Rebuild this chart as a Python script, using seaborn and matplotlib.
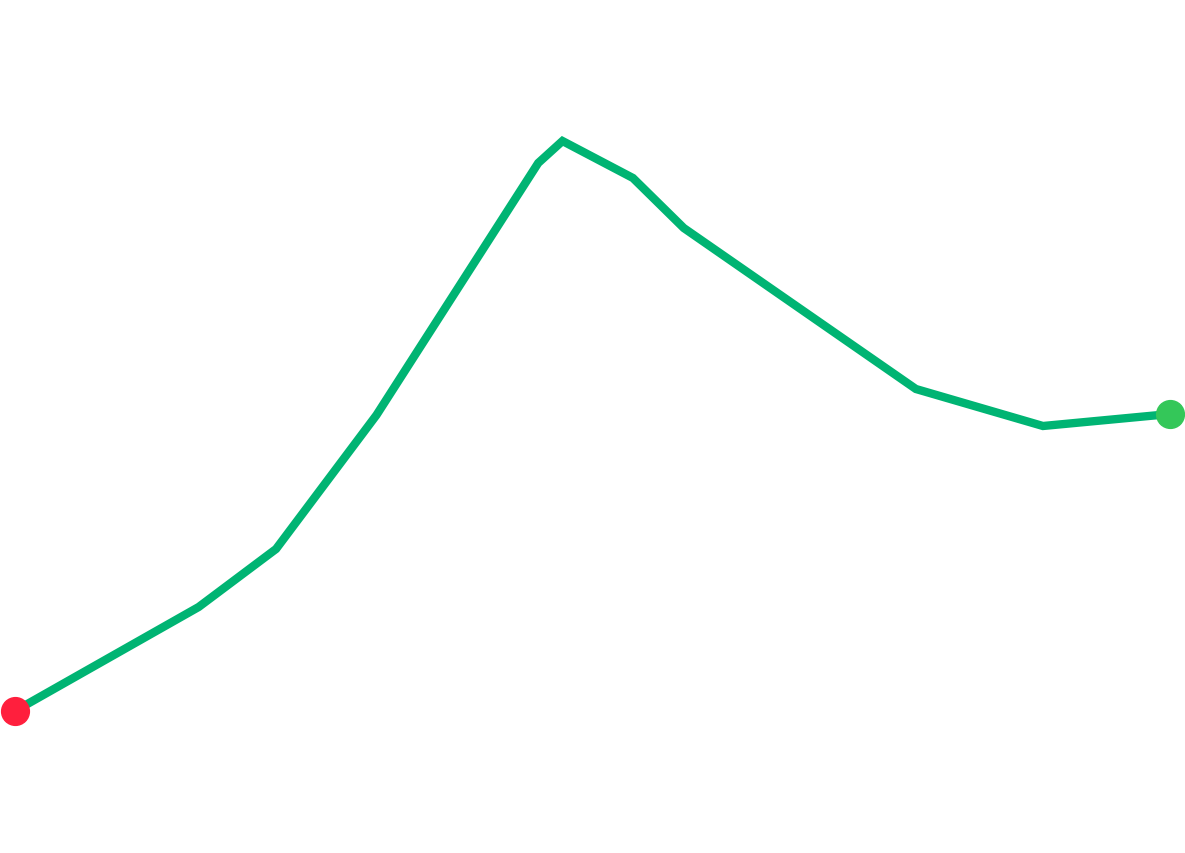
import matplotlib
matplotlib.use("Agg")
import matplotlib.pyplot as plt
import pandas as pd
import seaborn as sns

# (arbitrary units, no axes shown)
x_pos = [0.0, 15.9, 22.6, 31.3, 45.3, 47.4, 53.5, 57.9, 78.0, 89.0, 100.0]
values = [142, 246, 304, 438, 690, 712, 675, 625, 464, 427, 439]

LINE = "#00b473"
START = "#ff1f3d"
END = "#34c759"

df = pd.DataFrame({"x": x_pos, "value": values})

sns.set_style("white")
fig = plt.figure(figsize=(11.85, 8.54), dpi=100)
ax = fig.add_axes([0, 0, 1, 1])

sns.lineplot(data=df, x="x", y="value", color=LINE, linewidth=6, ax=ax,
             solid_joinstyle="miter", solid_capstyle="butt")
first, last = df.iloc[[0]], df.iloc[[-1]]
ax.plot(first["x"], first["value"], "o", color=START, markersize=20, zorder=3)
ax.plot(last["x"], last["value"], "o", color=END, markersize=20, zorder=3)

# 11.55 px per x unit, first point at pixel 15
ax.set_xlim(-15 / 11.55, (1185 - 15) / 11.55)
ax.set_ylim(0, 854)
ax.axis("off")

fig.savefig("out.png", dpi=100)
